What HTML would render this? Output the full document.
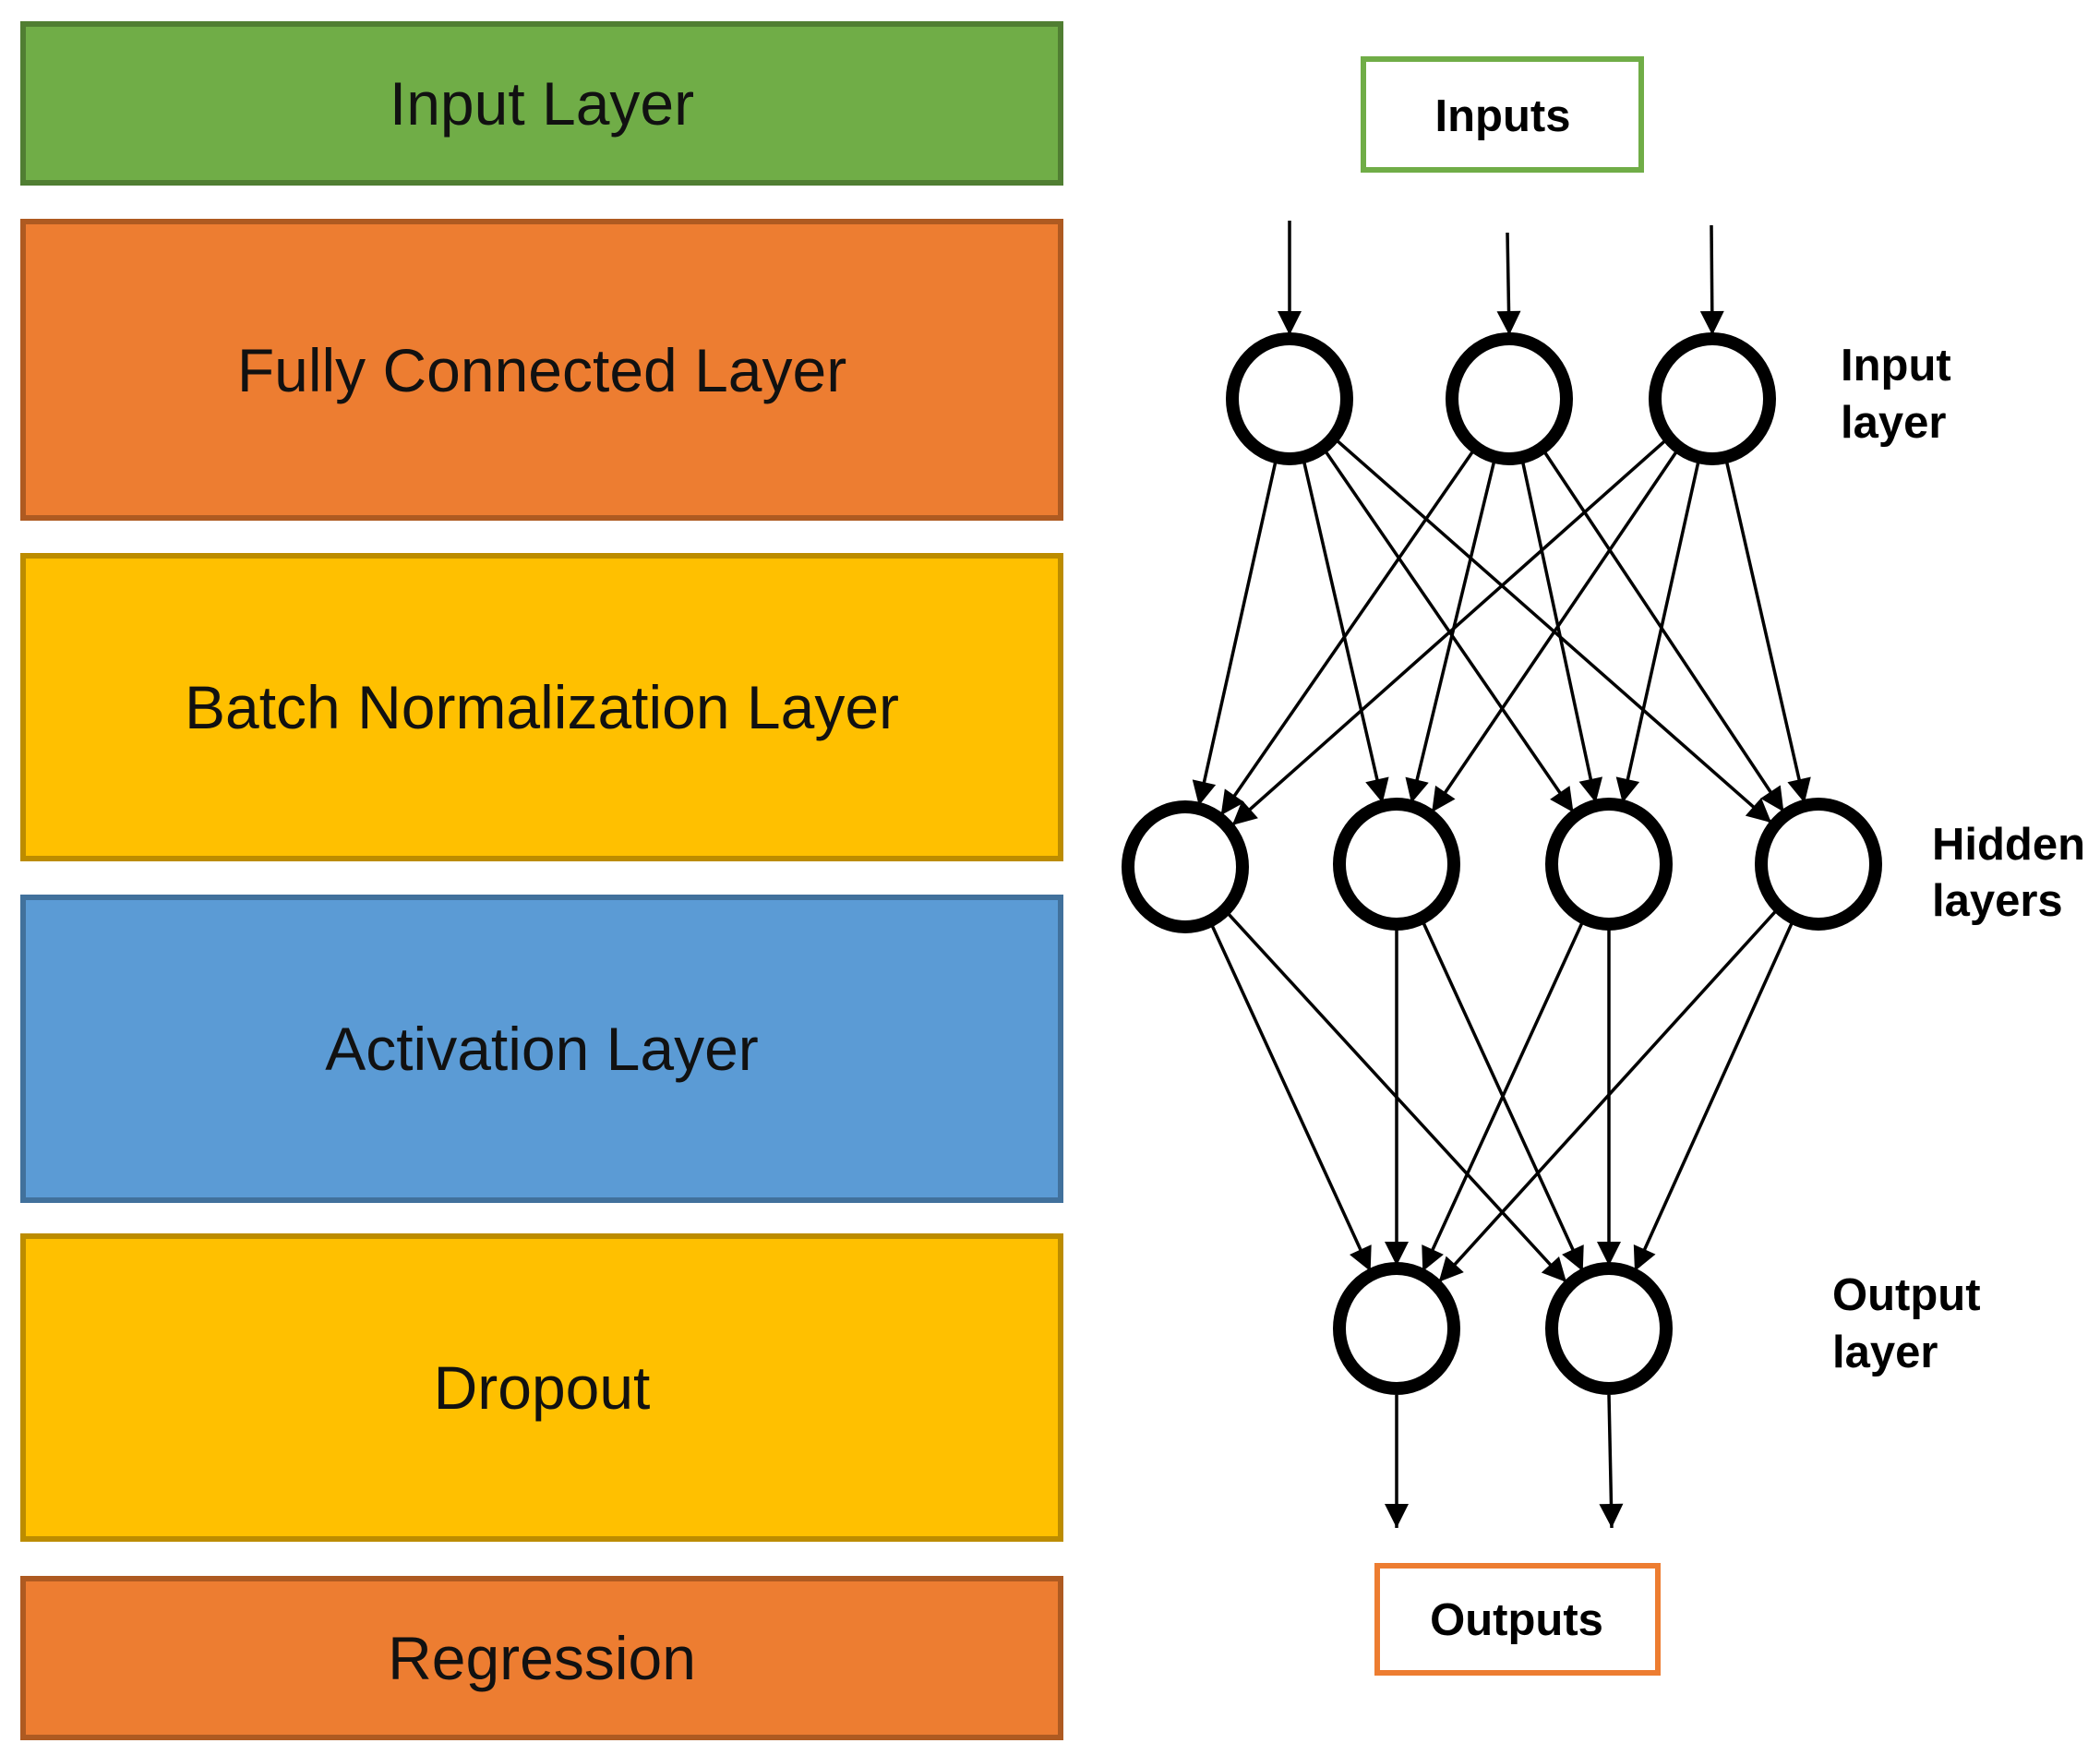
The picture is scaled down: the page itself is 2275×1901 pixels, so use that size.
<!DOCTYPE html>
<html><head><meta charset="utf-8"><style>
html,body{margin:0;padding:0;background:#fff;}
body{width:2275px;height:1901px;position:relative;overflow:hidden;font-family:"Liberation Sans",Arial,sans-serif;}
.b{position:absolute;left:22px;width:1118px;border:6px solid;display:flex;align-items:center;justify-content:center;font-size:66px;color:#111;}
</style></head><body>
<div class="b" style="top:23px;height:166px;background:#70ad47;border-color:#507e32;">Input Layer</div>
<div class="b" style="top:237px;height:315px;background:#ed7d31;border-color:#ae5a21;">Fully Connected Layer</div>
<div class="b" style="top:599px;height:322px;background:#ffc000;border-color:#bc8c00;">Batch Normalization Layer</div>
<div class="b" style="top:969px;height:322px;background:#5b9bd5;border-color:#41719c;">Activation Layer</div>
<div class="b" style="top:1336px;height:322px;background:#ffc000;border-color:#bc8c00;">Dropout</div>
<div class="b" style="top:1707px;height:166px;background:#ed7d31;border-color:#ae5a21;">Regression</div>
<svg id="s" width="2275" height="1901" style="position:absolute;left:0;top:0" xmlns="http://www.w3.org/2000/svg">
<defs>
<marker id="m" viewBox="0 0 10 10" refX="10" refY="5" markerWidth="30" markerHeight="26" markerUnits="userSpaceOnUse" orient="auto"><path d="M0,0 L10,5 L0,10 z" fill="#000"/></marker></defs>
<g transform="translate(-8,-1)">
<rect x="1485" y="65" width="301" height="120" fill="#fff" stroke="#70ad47" stroke-width="6"/>
<text x="1636" y="143" font-size="49" font-weight="bold" text-anchor="middle" font-family="Liberation Sans, Arial, sans-serif">Inputs</text>
<rect x="1500" y="1697" width="304" height="116" fill="#fff" stroke="#ed7d31" stroke-width="6"/>
<text x="1651" y="1772" font-size="49" font-weight="bold" text-anchor="middle" font-family="Liberation Sans, Arial, sans-serif">Outputs</text>
<g font-size="49" font-weight="bold" font-family="Liberation Sans, Arial, sans-serif">
<text x="2002" y="413">Input</text><text x="2002" y="475">layer</text>
<text x="2101" y="932">Hidden</text><text x="2101" y="993">layers</text>
<text x="1993" y="1420">Output</text><text x="1993" y="1482">layer</text>
</g>
<g id="e" stroke="#000" stroke-width="3.5" fill="none"></g>
<g id="c" stroke="#000" stroke-width="14" fill="#fff"></g>
</g>
</svg>
<script>
var I=[[1405,433],[1643,433],[1863,433]],H=[[1292,940],[1521,937],[1751,937],[1978,937]],O=[[1521,1440],[1751,1440]];
var e=document.getElementById('e'),c=document.getElementById('c'),ns='http://www.w3.org/2000/svg',R=68;
function L(x1,y1,x2,y2){var l=document.createElementNS(ns,'line');l.setAttribute('x1',x1);l.setAttribute('y1',y1);l.setAttribute('x2',x2);l.setAttribute('y2',y2);l.setAttribute('marker-end','url(#m)');e.appendChild(l);}
function E(a,b){var dx=b[0]-a[0],dy=b[1]-a[1],d=Math.sqrt(dx*dx+dy*dy),ux=dx/d,uy=dy/d;L(a[0]+ux*R,a[1]+uy*R,b[0]-ux*R,b[1]-uy*R);}
I.forEach(function(a){H.forEach(function(b){E(a,b);});});
H.forEach(function(a){O.forEach(function(b){E(a,b);});});
L(1405,240,1405,364);L(1641,253,1643,364);L(1862,245,1863,364);
L(1521,1512,1521,1656);L(1751,1512,1754,1656);
I.concat(H,O).forEach(function(p){var k=document.createElementNS(ns,'ellipse');k.setAttribute('cx',p[0]);k.setAttribute('cy',p[1]);k.setAttribute('rx',62);k.setAttribute('ry',65);c.appendChild(k);});
</script>
</body></html>
